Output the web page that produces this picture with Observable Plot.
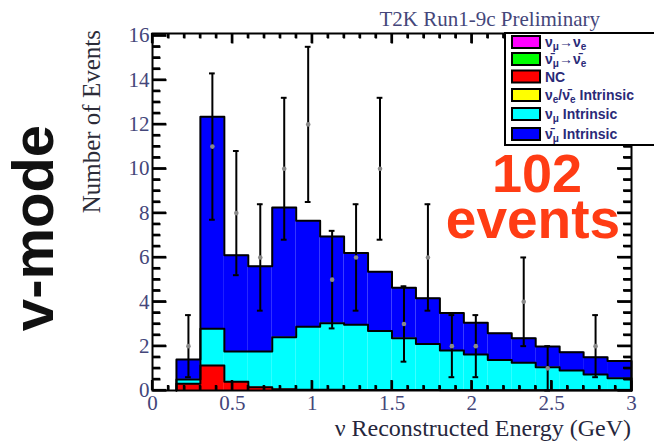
<!DOCTYPE html>
<html><head><meta charset="utf-8">
<script src="https://cdn.jsdelivr.net/npm/d3@7"></script>
<script src="https://cdn.jsdelivr.net/npm/@observablehq/plot@0.6"></script>
<style>body{margin:0;background:#fff}svg{display:block}</style>
</head><body><div id="chart"></div>
<script>
// Bin edges (GeV)
const binEdges = [0.15,0.30,0.45,0.60,0.75,0.90,1.05,1.20,1.35,1.50,1.65,1.80,1.95,2.10,2.25,2.40,2.55,2.70,2.85,3.00];
// Predicted events per bin, per component
const ncPred      = [0.30,1.13,0.40,0.15,0.06,0.03,0.03,0.02,0.02,0.02,0.02,0.01,0.01,0.01,0.01,0.01,0.01,0.01,0.01];
const numuPred    = [0.20,1.65,1.36,1.61,2.34,2.85,3.00,2.94,2.66,2.34,2.08,1.79,1.61,1.37,1.24,1.04,0.89,0.71,0.54];
const numubarPred = [0.90,9.57,4.34,3.84,5.85,4.77,3.92,3.24,2.68,2.27,2.06,1.70,1.43,1.20,1.11,0.93,0.83,0.78,0.78];
// Observed data per bin and its error
const dataCounts  = [2,11,8,6,10,12,5,6,10,3,6,2,2,0,4,1,0,2,0];
const dataErrors  = [1.4,3.3,2.8,2.4,3.2,3.5,2.2,2.4,3.2,1.7,2.4,1.4,1.4,0,2.0,1.0,0,1.4,0];
// Axis ticks
const xTicks = [0,0.5,1,1.5,2,2.5,3];
const xTickLabels = ["0","0.5","1","1.5","2","2.5","3"];
const yTicks = [0,2,4,6,8,10,12,14,16];
const yTickLabels = ["0","2","4","6","8","10","12","14","16"];
// Legend
const legendColors = ["#ff00ff","#00ff00","#ff0000","#ffff00","#00ffff","#0000ff"];
const legendLabels = [
  [["ν",""],["μ","sub"],["→",""],["ν",""],["e","sub"]],
  [["ν̄",""],["μ","sub"],["→",""],["ν̄",""],["e","sub"]],
  [["NC",""]],
  [["ν",""],["e","sub"],["/",""],["ν̄",""],["e","sub"],[" Intrinsic",""]],
  [["ν",""],["μ","sub"],[" Intrinsic",""]],
  [["ν̄",""],["μ","sub"],[" Intrinsic",""]]
];

const nb = dataCounts.length;
const bins = d3.range(nb).map(i => {
  const c1 = ncPred[i], c2 = c1 + numuPred[i], c3 = c2 + numubarPred[i];
  return {lo: binEdges[i], hi: binEdges[i+1], c1, c2, c3};
});
function outline(key) {
  const o = [{x: binEdges[0], y: 0}];
  bins.forEach(b => o.push({x: b.lo, y: b[key]}));
  o.push({x: binEdges[nb], y: bins[nb-1][key]});
  o.push({x: binEdges[nb], y: 0});
  return o;
}
const obs = bins.map((b, i) => ({c: (b.lo + b.hi) / 2, n: dataCounts[i], lo: Math.max(0, dataCounts[i] - dataErrors[i]), hi: dataCounts[i] + dataErrors[i]}))
  .filter(d => d.n > 0);
const capW = 0.018;
const caps = obs.flatMap(d => [{x1: d.c - capW, x2: d.c + capW, y: d.lo}, {x1: d.c - capW, x2: d.c + capW, y: d.hi}]);

const xMinor = d3.range(1, 30).filter(k => k % 5 !== 0).map(k => k / 10);
const yMinor = d3.range(1, 33).filter(k => k % 4 !== 0).map(k => k / 2);
const tickCol = "#44467a";
const pxX = 3 / 479, pxY = 16.1 / 357;
const tickRows = [];
xTicks.forEach(v => { tickRows.push({x1: v, x2: v, y1: 0, y2: 10 * pxY}); tickRows.push({x1: v, x2: v, y1: 16.1, y2: 16.1 - 10 * pxY}); });
xMinor.forEach(v => { tickRows.push({x1: v, x2: v, y1: 0, y2: 5 * pxY}); tickRows.push({x1: v, x2: v, y1: 16.1, y2: 16.1 - 5 * pxY}); });
yTicks.forEach(v => { tickRows.push({x1: 0, x2: 14 * pxX, y1: v, y2: v}); tickRows.push({x1: 3, x2: 3 - 14 * pxX, y1: v, y2: v}); });
yMinor.forEach(v => { tickRows.push({x1: 0, x2: 8 * pxX, y1: v, y2: v}); tickRows.push({x1: 3, x2: 3 - 8 * pxX, y1: v, y2: v}); });

const chart = Plot.plot({
  width: 654, height: 445,
  marginLeft: 152, marginRight: 23, marginTop: 33, marginBottom: 55,
  x: {domain: [0, 3]},
  y: {domain: [0, 16.1]},
  style: {background: "white", fontFamily: "Liberation Serif"},
  marks: [
    Plot.rect(bins, {x1: "lo", x2: "hi", y1: "c2", y2: "c3", fill: "#0000ff"}),
    Plot.rect(bins, {x1: "lo", x2: "hi", y1: "c1", y2: "c2", fill: "#00ffff"}),
    Plot.rect(bins, {x1: "lo", x2: "hi", y1: 0, y2: "c1", fill: "#ff0000"}),
    Plot.line(outline("c3"), {x: "x", y: "y", curve: "step-after", stroke: "black", strokeWidth: 2}),
    Plot.line(outline("c2"), {x: "x", y: "y", curve: "step-after", stroke: "black", strokeWidth: 2}),
    Plot.line(outline("c1"), {x: "x", y: "y", curve: "step-after", stroke: "black", strokeWidth: 2}),
    Plot.ruleX(obs, {x: "c", y1: "lo", y2: "hi", stroke: "black", strokeWidth: 2}),
    Plot.ruleY(caps, {x1: "x1", x2: "x2", y: "y", stroke: "black", strokeWidth: 2}),
    Plot.dot(obs, {x: "c", y: "n", r: 2.3, fill: "#8a8a8a"}),
    Plot.axisX(xTicks, {anchor: "bottom", tickSize: 0, tickPadding: 5, tickFormat: d => xTickLabels[xTicks.indexOf(d)], label: null, fontSize: 21, fill: tickCol}),
    Plot.axisY(yTicks, {anchor: "left", tickSize: 0, tickPadding: 3, tickFormat: d => yTickLabels[yTicks.indexOf(d)], label: null, fontSize: 21, fill: tickCol}),
    Plot.frame({stroke: "black", strokeWidth: 2}),
    Plot.link(tickRows, {x1: "x1", x2: "x2", y1: "y1", y2: "y2", stroke: "#000", strokeWidth: 2.2})
  ]
});
document.getElementById("chart").appendChild(chart);

const svg = d3.select(chart);
// second pass of the same inward ticks through the Plot scales, drawn on top
const xs = chart.scale("x"), ys = chart.scale("y");
const tg = svg.append("g");
tickRows.forEach(r => {
  tg.append("line")
    .attr("x1", xs.apply(r.x1)).attr("x2", xs.apply(r.x2))
    .attr("y1", ys.apply(r.y1)).attr("y2", ys.apply(r.y2))
    .attr("stroke", "#000").attr("stroke-width", 2.2).attr("stroke-linecap", "butt");
});

svg.append("text").attr("x", 600).attr("y", 26).attr("text-anchor", "end")
  .attr("font-family", "Liberation Serif").attr("font-size", 21).attr("fill", tickCol)
  .text("T2K Run1-9c Preliminary");
svg.append("text").attr("x", 631).attr("y", 436).attr("text-anchor", "end")
  .attr("font-family", "Liberation Serif").attr("font-size", 24).attr("fill", "#26263c")
  .text("ν Reconstructed Energy (GeV)");
svg.append("text").attr("transform", "translate(100,30) rotate(-90)").attr("text-anchor", "end")
  .attr("font-family", "Liberation Serif").attr("font-size", 25).attr("fill", "#2c2c38")
  .text("Number of Events");
svg.append("text").attr("transform", "translate(53,228) rotate(-90)").attr("text-anchor", "middle")
  .attr("font-family", "Liberation Sans").attr("font-weight", "bold").attr("font-size", 58).attr("fill", "#111")
  .text("v-mode");
svg.append("text").attr("x", 537).attr("y", 192).attr("text-anchor", "middle")
  .attr("font-family", "Liberation Sans").attr("font-weight", "bold").attr("font-size", 54).attr("fill", "#ff3c14")
  .text("102");
svg.append("text").attr("x", 533).attr("y", 238).attr("text-anchor", "middle")
  .attr("font-family", "Liberation Sans").attr("font-weight", "bold").attr("font-size", 55).attr("fill", "#ff3c14")
  .text("events");

const lg = svg.append("g");
lg.append("rect").attr("x", 505).attr("y", 33).attr("width", 170).attr("height", 112)
  .attr("fill", "white").attr("stroke", "black").attr("stroke-width", 2);
const rowY = [42, 59, 76.5, 95, 114, 134];
legendLabels.forEach((parts, i) => {
  lg.append("rect").attr("x", 512).attr("y", rowY[i] - 6).attr("width", 28).attr("height", 12)
    .attr("fill", legendColors[i]).attr("stroke", "black").attr("stroke-width", 2);
  const t = lg.append("text").attr("x", 545).attr("y", rowY[i] + 5).attr("text-anchor", "start")
    .attr("font-family", "Liberation Sans").attr("font-weight", "bold").attr("font-size", 14).attr("fill", "#2a2a78");
  let shifted = false;
  parts.forEach(([s, kind]) => {
    const sp = t.append("tspan").text(s);
    if (kind === "sub") { sp.attr("dy", 3).attr("font-size", 10); shifted = true; }
    else if (shifted) { sp.attr("dy", -3); shifted = false; }
  });
});
</script>
</body></html>
